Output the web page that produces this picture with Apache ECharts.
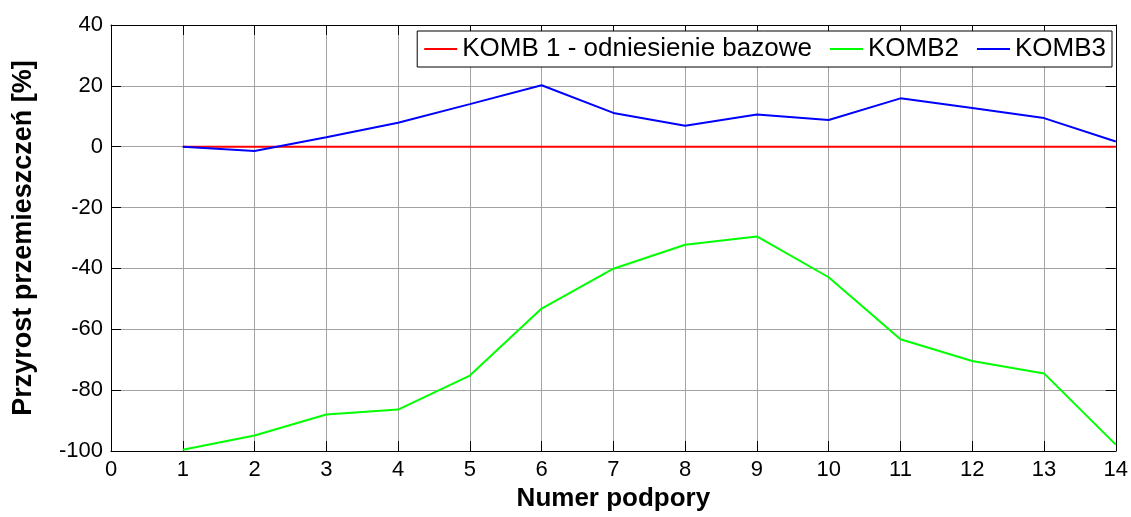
<!DOCTYPE html>
<html>
<head>
<meta charset="utf-8">
<script src="https://cdn.jsdelivr.net/npm/echarts@6/dist/echarts.min.js"></script>
<style>
html,body{margin:0;padding:0;background:#fff;}
#chart{width:1131px;height:517px;}
</style>
</head>
<body>
<div id="chart"></div>
<script>
const supports = [1, 2, 3, 4, 5, 6, 7, 8, 9, 10, 11, 12, 13, 14];
const komb1 = [0, 0, 0, 0, 0, 0, 0, 0, 0, 0, 0, 0, 0, 0];
const komb2 = [-99.6, -94.9, -88.0, -86.4, -75.2, -53.2, -40.1, -32.2, -29.5, -42.9, -63.3, -70.4, -74.5, -97.9];
const komb3 = [0, -1.4, 3.1, 7.9, 14.0, 20.2, 11.1, 6.9, 10.6, 8.8, 15.9, 12.7, 9.4, 1.7];
const seriesNames = ['KOMB 1 - odniesienie bazowe', 'KOMB2', 'KOMB3'];
const xTitle = 'Numer podpory';
const yTitle = 'Przyrost przemieszczeń [%]';

const pairs = arr => supports.map((x, i) => [x, arr[i]]);
const font = '"Liberation Sans", Arial, sans-serif';
const gridColor = '#a3a3a3';

const chart = echarts.init(document.getElementById('chart'), null, {renderer: 'canvas'});
chart.setOption({
  animation: false,
  backgroundColor: '#ffffff',
  textStyle: {fontFamily: font},
  grid: {left: 111, right: 15, top: 25, bottom: 66, containLabel: false},
  legend: {
    right: 19, top: 31,
    orient: 'horizontal',
    backgroundColor: '#ffffff',
    borderColor: '#000000', borderWidth: 1,
    padding: [5, 6, 5, 7],
    icon: 'rect',
    itemWidth: 33, itemHeight: 2, itemGap: 18,
    textStyle: {fontSize: 26, color: '#000', fontFamily: font},
    data: seriesNames
  },
  xAxis: [{
    type: 'value', min: 0, max: 14, interval: 1,
    name: xTitle, nameLocation: 'middle', nameGap: 33,
    nameTextStyle: {fontSize: 26, fontWeight: 'bold', color: '#000', fontFamily: font},
    axisLine: {show: true, onZero: false, lineStyle: {color: '#000', width: 1}},
    axisTick: {show: true, inside: true, length: 10, lineStyle: {color: '#000'}},
    axisLabel: {fontSize: 22, color: '#000', margin: 8, fontFamily: font},
    splitLine: {show: true, lineStyle: {color: gridColor, width: 1}}
  }, {
    type: 'value', min: 0, max: 14, interval: 1, position: 'top',
    axisLine: {show: true, onZero: false, lineStyle: {color: '#000', width: 1}},
    axisTick: {show: true, inside: true, length: 10, lineStyle: {color: '#000'}},
    axisLabel: {show: false},
    splitLine: {show: false}
  }],
  yAxis: [{
    type: 'value', min: -100, max: 40, interval: 20,
    name: yTitle, nameLocation: 'middle', nameGap: 74, nameRotate: 90,
    nameTextStyle: {fontSize: 27, fontWeight: 'bold', color: '#000', fontFamily: font},
    axisLine: {show: true, onZero: false, lineStyle: {color: '#000', width: 1}},
    axisTick: {show: true, inside: true, length: 10, lineStyle: {color: '#000'}},
    axisLabel: {fontSize: 22, color: '#000', margin: 8, fontFamily: font},
    splitLine: {show: true, lineStyle: {color: gridColor, width: 1}}
  }, {
    type: 'value', min: -100, max: 40, interval: 20, position: 'right',
    axisLine: {show: true, onZero: false, lineStyle: {color: '#000', width: 1}},
    axisTick: {show: true, inside: true, length: 10, lineStyle: {color: '#000'}},
    axisLabel: {show: false},
    splitLine: {show: false}
  }],
  series: [
    {name: seriesNames[0], type: 'line', data: pairs(komb1), symbol: 'none', color: '#ff0000', lineStyle: {width: 2, color: '#ff0000'}},
    {name: seriesNames[1], type: 'line', data: pairs(komb2), symbol: 'none', color: '#00ff00', lineStyle: {width: 2, color: '#00ff00'}},
    {name: seriesNames[2], type: 'line', data: pairs(komb3), symbol: 'none', color: '#0000ff', lineStyle: {width: 2, color: '#0000ff'}}
  ]
});
</script>
</body>
</html>
